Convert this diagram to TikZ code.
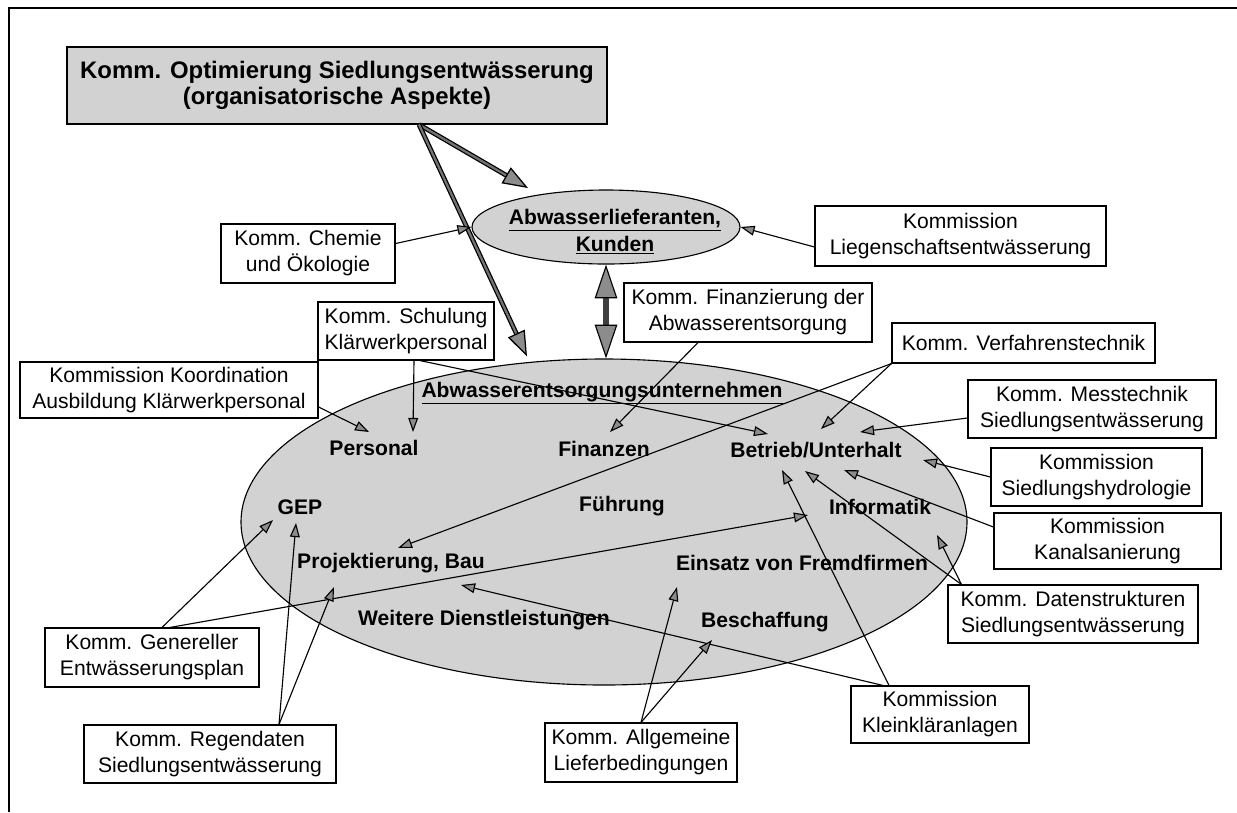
\documentclass[tikz,border=0pt]{standalone}
\usepackage{fontspec}
\setmainfont{Liberation Sans}
\usepackage{tikz}
\usetikzlibrary{shapes.geometric, arrows.meta, positioning, calc}
\definecolor{fillgray}{RGB}{210,210,210}
\definecolor{tipgray}{RGB}{140,140,140}
\newcommand{\px}{0.025cm}

\begin{document}
\begin{tikzpicture}[
    x=\px, y=-\px,
    kommbox/.style={draw, thick, fill=white, align=center, inner sep=0pt, font=\fontsize{15}{18.5}\selectfont},
    lbl/.style={font=\fontsize{15}{19}\selectfont\bfseries, inner sep=1pt, align=center},
    arr/.style={-{Triangle[length=10pt, width=7pt, fill=tipgray]}, line width=0.8pt},
    bigarr/.style={-{Triangle[length=18pt, width=13pt, fill=tipgray]}, line width=0.9pt, double=black!55, double distance=1.6pt},
    dblarr/.style={{Triangle[length=24pt, width=16pt, fill=tipgray, line width=0.8pt, color=black]}-{Triangle[length=24pt, width=16pt, fill=tipgray, line width=0.8pt, color=black]}, line width=4.5pt, draw=black!75}
]
    \useasboundingbox (0,0) rectangle (1237,812);

    % Frame
    \draw[line width=1pt] (9,812) -- (9,8) -- (1237,8);

    % Ellipses
    \node[draw, thick, ellipse, fill=fillgray, minimum width=726*\px, minimum height=326*\px, inner sep=0pt] (unt) at (604,522) {};
    \node[draw, thick, ellipse, fill=fillgray, minimum width=268*\px, minimum height=74*\px, inner sep=0pt] (kunden) at (606,227) {};
    \node[lbl] (kundentxt) at (615,232) {\underline{Abwasserlieferanten,}\\\underline{Kunden}};

    % Top box
    \node[draw, thick, fill=fillgray, align=center, inner sep=0pt, minimum width=540*\px, minimum height=77*\px,
          font=\fontsize{17}{19}\selectfont\bfseries] (top) at (337,85.5) {Komm. Optimierung Siedlungsentwässerung\\(organisatorische Aspekte)};

    % Labels in the big ellipse
    \node[lbl] (untxt) at (602,393) {\underline{Abwasserentsorgungsunternehmen}};
    \node[lbl] (pers) at (374,448) {Personal};
    \node[lbl] (fin) at (604,449) {Finanzen};
    \node[lbl] (betr) at (816,450) {Betrieb/Unterhalt};
    \node[lbl] (gep) at (300,507) {GEP};
    \node[lbl] (fuehr) at (622,506) {Führung};
    \node[lbl] (info) at (880,507) {Informatik};
    \node[lbl] (proj) at (391,563) {Projektierung, Bau};
    \node[lbl] (einsatz) at (802,563) {Einsatz von Fremdfirmen};
    \node[lbl] (weitere) at (484,620) {Weitere Dienstleistungen};
    \node[lbl] (besch) at (765,622) {Beschaffung};

    % Commission boxes
    \node[kommbox, minimum width=174*\px, minimum height=59*\px] (chem) at (308,253.5) {Komm. Chemie\\und Ökologie};
    \node[kommbox, minimum width=291*\px, minimum height=60*\px] (lieg) at (960.5,236) {Kommission\\Liegenschaftsentwässerung};
    \node[kommbox, minimum width=248*\px, minimum height=59*\px] (finz) at (748,312.5) {Komm. Finanzierung der\\Abwasserentsorgung};
    \node[kommbox, minimum width=176*\px, minimum height=58*\px] (schul) at (406,331) {Komm. Schulung\\Klärwerkpersonal};
    \node[kommbox, minimum width=263*\px, minimum height=40*\px] (verf) at (1023.5,343) {Komm. Verfahrenstechnik};
    \node[kommbox, minimum width=298*\px, minimum height=56*\px] (koord) at (169,390) {Kommission Koordination\\Ausbildung Klärwerkpersonal};
    \node[kommbox, minimum width=248*\px, minimum height=58*\px] (mess) at (1092,409) {Komm. Messtechnik\\Siedlungsentwässerung};
    \node[kommbox, minimum width=211*\px, minimum height=58*\px] (hydro) at (1096.5,477) {Kommission\\Siedlungshydrologie};
    \node[kommbox, minimum width=227*\px, minimum height=56*\px] (kanal) at (1107.5,541) {Kommission\\Kanalsanierung};
    \node[kommbox, minimum width=250*\px, minimum height=58*\px] (daten) at (1073,614) {Komm. Datenstrukturen\\Siedlungsentwässerung};
    \node[kommbox, minimum width=178*\px, minimum height=57*\px] (klein) at (940,714.5) {Kommission\\Kleinkläranlagen};
    \node[kommbox, minimum width=192*\px, minimum height=59*\px] (allg) at (641,752.5) {Komm. Allgemeine\\Lieferbedingungen};
    \node[kommbox, minimum width=252*\px, minimum height=58*\px] (regen) at (210,754) {Komm. Regendaten\\Siedlungsentwässerung};
    \node[kommbox, minimum width=214*\px, minimum height=59*\px] (gener) at (152,657.5) {Komm. Genereller\\Entwässerungsplan};

    % Thick arrows
    \draw[bigarr] ($(top.south)+(82,0)$) -- ($(kunden.center)+(-78,-39)$);
    \draw[bigarr] ($(top.south)+(82,0)$) -- ($(unt.north)+(-77,-2)$);
    \draw[dblarr] (kunden.south) -- (kunden.south |- unt.north);

    % Arrows to the customers
    \draw[arr] ($(chem.east)+(0,-10)$) -- (kunden.west);
    \draw[arr] ($(lieg.west)+(0,11)$) -- (kunden.east);

    % Arrows into the enterprise
    \draw[arr] ($(finz.south)+(-50,0)$) -- ($(fin)+(6,-17)$);
    \draw[arr] ($(schul.south)+(8,0)$) -- ($(pers)+(39,-16)$);
    \draw[arr] ($(schul.south)+(14,0)$) -- ($(betr)+(-48,-16)$);
    \draw[arr] ($(koord.east)+(0,17)$) -- ($(pers)+(-5,-16)$);
    \draw[arr] (verf.south west) -- ($(proj)+(7,-15)$);
    \draw[arr] (verf.south west) -- ($(betr)+(5,-21)$);
    \draw[arr] ($(mess.west)+(0,9)$) -- ($(betr)+(44,-18)$);
    \draw[arr] (hydro.west) -- ($(betr)+(107,10)$);
    \draw[arr] ($(kanal.west)+(0,-14)$) -- ($(betr)+(28,20)$);
    \draw[arr] ($(daten.north west)+(14,0)$) -- ($(betr)+(-11,21)$);
    \draw[arr] ($(daten.north west)+(14,0)$) -- ($(info)+(57,28)$);
    \draw[arr] ($(klein.north)+(-51,0)$) -- ($(betr)+(-34,20)$);
    \draw[arr] ($(klein.north)+(-57,0)$) -- ($(proj)+(70,22)$);
    \draw[arr] (allg.north) -- ($(einsatz)+(-125,24)$);
    \draw[arr] (allg.north) -- ($(besch)+(-53,18)$);
    \draw[arr] ($(gener.north)+(10,0)$) -- ($(gep)+(-27,13)$);
    \draw[arr] ($(gener.north)+(18,0)$) -- ($(info)+(-72,8)$);
    \draw[arr] ($(regen.north)+(69,0)$) -- ($(gep)+(-4,16)$);
    \draw[arr] ($(regen.north)+(69,0)$) -- ($(proj)+(-57,24)$);

\end{tikzpicture}
\end{document}
